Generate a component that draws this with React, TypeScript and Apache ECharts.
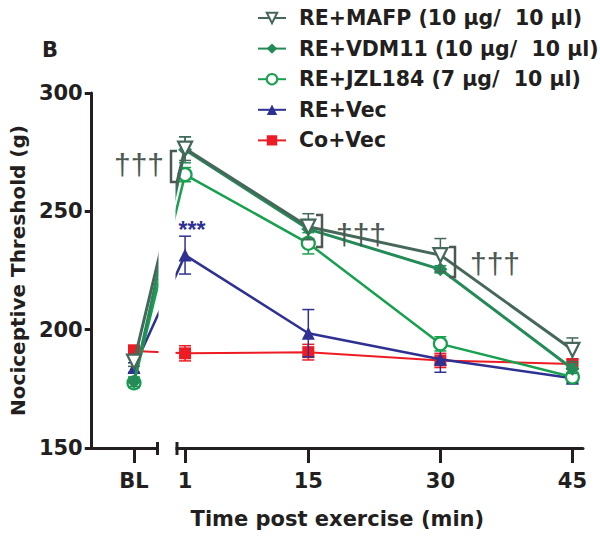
import React, { useEffect, useRef } from 'react';
import * as echarts from 'echarts';

// ---- data ----
const timeLabels = ['BL', '1', '15', '30', '45'];
const BL_AXIS_POSITION = -4.8; // where the baseline column sits on the broken time axis
const timePoints = [BL_AXIS_POSITION, 1, 15, 30, 45];

const yTicks = [150, 200, 250, 300];

const mafpMean = [186.5, 276.5, 243.5, 231.5, 191.5];
const mafpSem = [2, 5, 5.5, 7, 5];
const vdmMean = [178, 276, 242.5, 225.5, 183.5];
const vdmSem = [2, 5.5, 4, 1.5, 2];
const jzlMean = [177.5, 265.5, 236.5, 194, 180];
const jzlSem = [2, 3, 4.5, 3, 2];
const reVecMean = [184, 231.5, 198.5, 187.5, 179.5];
const reVecSem = [2, 8, 10, 5.5, 2];
const coVecMean = [191, 190, 190.5, 187, 185.5];
const coVecSem = [2.5, 3.2, 3.3, 3, 2];

const seriesNames = [
  'RE+MAFP (10 µg/  10 µl)',
  'RE+VDM11 (10 µg/  10 µl)',
  'RE+JZL184 (7 µg/  10 µl)',
  'RE+Vec',
  'Co+Vec',
];

const FONT = 'DejaVu Sans';
const AXIS_COLOR = '#231f20';
const DAGGER_COLOR = '#4c5852';

export default function App() {
  const ref = useRef<HTMLDivElement>(null);

  useEffect(() => {
    const chart = echarts.init(ref.current!, null, { renderer: 'svg' });

    const groups = [
      { name: seriesNames[0], mean: mafpMean, sem: mafpSem, color: '#45685a', symbol: 'path://M0,0L10,0L5,10Z', size: 14, hollow: true, width: 3 },
      { name: seriesNames[1], mean: vdmMean, sem: vdmSem, color: '#248a58', symbol: 'diamond', size: 14, hollow: false, width: 3 },
      { name: seriesNames[2], mean: jzlMean, sem: jzlSem, color: '#17a04e', symbol: 'circle', size: 13, hollow: true, width: 2.5 },
      { name: seriesNames[3], mean: reVecMean, sem: reVecSem, color: '#2e3192', symbol: 'triangle', size: 13, hollow: false, width: 2.5 },
      { name: seriesNames[4], mean: coVecMean, sem: coVecSem, color: '#ed1c24', symbol: 'rect', size: 12, hollow: false, width: 2 },
    ];

    const series: any[] = [];
    const drawOrder = [4, 3, 2, 1, 0];
    drawOrder.forEach((gi, k) => {
      const g = groups[gi];
      series.push({
        type: 'custom',
        name: g.name + ' SEM',
        coordinateSystem: 'cartesian2d',
        encode: { x: 0, y: 1 },
        z: 2 + k * 2,
        silent: true,
        data: timePoints.map((t, i) => [t, g.mean[i], g.sem[i]]),
        renderItem: (params: any, api: any) => {
          const x = api.value(0);
          const m = api.value(1);
          const e = api.value(2);
          const top = api.coord([x, m + e]);
          const bot = api.coord([x, m - e]);
          const hw = 6;
          const style = { stroke: g.color, lineWidth: 1.5 };
          return {
            type: 'group',
            children: [
              { type: 'line', shape: { x1: top[0], y1: top[1], x2: bot[0], y2: bot[1] }, style },
              { type: 'line', shape: { x1: top[0] - hw, y1: top[1], x2: top[0] + hw, y2: top[1] }, style },
              { type: 'line', shape: { x1: bot[0] - hw, y1: bot[1], x2: bot[0] + hw, y2: bot[1] }, style },
            ],
          };
        },
      });
      series.push({
        type: 'line',
        name: g.name,
        z: 3 + k * 2,
        data: timePoints.map((t, i) => [t, g.mean[i]]),
        symbol: g.symbol,
        symbolSize: g.size,
        showAllSymbol: true,
        lineStyle: { color: g.color, width: g.width },
        itemStyle: {
          color: g.hollow ? '#ffffff' : g.color,
          borderColor: g.color,
          borderWidth: g.hollow ? 2.2 : 0,
        },
      });
    });

    const daggerText = (x: number, y: number) => ({
      type: 'text',
      x,
      y,
      z: 120,
      style: {
        text: '†††',
        fill: DAGGER_COLOR,
        font: 'normal 30px "Liberation Sans"',
        textAlign: 'left',
        textVerticalAlign: 'middle',
      },
    });
    const bracket = (pts: number[][]) => ({
      type: 'polyline',
      z: 120,
      shape: { points: pts },
      style: { stroke: DAGGER_COLOR, lineWidth: 2.5, fill: null },
    });

    const option: any = {
      animation: false,
      backgroundColor: '#ffffff',
      grid: { left: 90, right: 17, top: 93, bottom: 98 },
      legend: {
        data: seriesNames,
        orient: 'vertical',
        left: 252,
        top: 2,
        itemWidth: 28,
        itemHeight: 13,
        itemGap: 8.6,
        textStyle: {
          fontFamily: FONT,
          fontWeight: 'bold',
          fontSize: 20.5,
          lineHeight: 22,
          color: AXIS_COLOR,
          padding: [0, 0, 0, 8],
        },
      },
      xAxis: {
        type: 'value',
        min: -9.6,
        max: 46.2,
        name: 'Time post exercise (min)',
        nameLocation: 'middle',
        nameGap: 60,
        nameTextStyle: { fontFamily: FONT, fontWeight: 'bold', fontSize: 21, color: AXIS_COLOR },
        splitLine: { show: false },
        axisLine: { show: true, onZero: false, lineStyle: { color: AXIS_COLOR, width: 3 } },
        axisTick: { show: true, customValues: timePoints, length: 15, lineStyle: { color: AXIS_COLOR, width: 3 } },
        axisLabel: {
          customValues: timePoints,
          margin: 22,
          fontFamily: FONT,
          fontWeight: 'bold',
          fontSize: 21,
          color: AXIS_COLOR,
          formatter: (v: number) => {
            const idx = timePoints.findIndex((t) => Math.abs(t - v) < 1e-6);
            return idx >= 0 ? timeLabels[idx] : '';
          },
        },
      },
      yAxis: {
        type: 'value',
        min: yTicks[0],
        max: yTicks[yTicks.length - 1],
        interval: 50,
        name: 'Nociceptive Threshold (g)',
        nameLocation: 'middle',
        nameGap: 62,
        nameTextStyle: { fontFamily: FONT, fontWeight: 'bold', fontSize: 20, color: AXIS_COLOR },
        splitLine: { show: false },
        axisLine: { show: true, onZero: false, lineStyle: { color: AXIS_COLOR, width: 3 } },
        axisTick: { show: true, length: 7, lineStyle: { color: AXIS_COLOR, width: 3 } },
        axisLabel: { margin: 9, fontFamily: FONT, fontWeight: 'bold', fontSize: 21, color: AXIS_COLOR },
      },
      graphic: [
        // axis break: blank gap between the baseline and time-course segments
        { type: 'rect', z: 100, shape: { x: 158.5, y: 60, width: 17, height: 410 }, style: { fill: '#ffffff' } },
        { type: 'line', z: 101, shape: { x1: 157.5, y1: 442, x2: 157.5, y2: 455 }, style: { stroke: AXIS_COLOR, lineWidth: 3 } },
        { type: 'line', z: 101, shape: { x1: 177, y1: 442, x2: 177, y2: 455 }, style: { stroke: AXIS_COLOR, lineWidth: 3 } },
        {
          type: 'text', x: 50, y: 50, z: 120,
          style: { text: 'B', fill: AXIS_COLOR, font: 'bold 21px "DejaVu Sans"', textAlign: 'center', textVerticalAlign: 'middle' },
        },
        daggerText(114, 164),
        bracket([[177, 151], [171, 151], [171, 182], [177, 182]]),
        bracket([[316, 215], [322, 215], [322, 247], [316, 247]]),
        daggerText(336, 234),
        bracket([[449, 247], [455, 247], [455, 277], [449, 277]]),
        daggerText(470, 263),
        {
          type: 'text', x: 192, y: 230, z: 120,
          style: { text: '***', fill: '#2e3192', font: 'bold 23px "Liberation Sans"', textAlign: 'center', textVerticalAlign: 'middle' },
        },
      ],
      series,
    };

    chart.setOption(option);
    return () => chart.dispose();
  }, []);

  return <div ref={ref} style={{ position: 'absolute', left: 0, top: 0, width: 600, height: 546 }} />;
}
